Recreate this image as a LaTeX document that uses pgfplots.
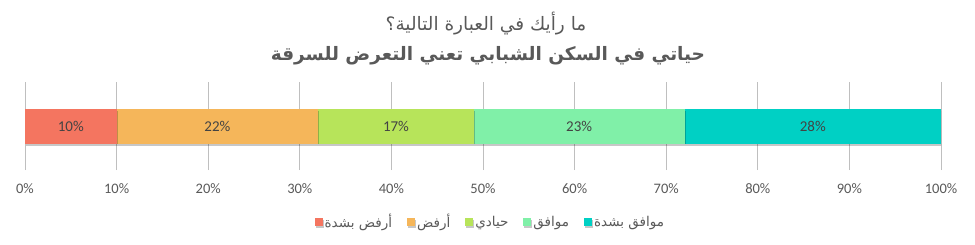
\documentclass[border=0pt]{standalone}
\usepackage{fontspec}
\setmainfont{Carlito}
\newfontfamily\arabicfont[Script=Arabic]{DejaVu Sans}
\TeXXeTstate=1
\usepackage{pgfplots}
\pgfplotsset{compat=1.18}
\definecolor{txt}{RGB}{89,89,89}
\definecolor{grid}{RGB}{217,217,217}
\definecolor{c1}{RGB}{244,117,96}
\definecolor{c2}{RGB}{245,182,90}
\definecolor{c3}{RGB}{183,228,90}
\definecolor{c4}{RGB}{128,240,168}
\definecolor{c5}{RGB}{0,208,196}
\newif\ifnoshadow
\tikzset{myshadow/.code={\ifnoshadow\else\tikzset{preaction={fill=black, opacity=0.22, transform canvas={xshift=1bp, yshift=-2.5bp}}}\fi}}
\begin{document}
\begin{tikzpicture}
\begin{axis}[
  at={(0,0)}, anchor=south west,
  scale only axis, width=916bp, height=88bp,
  xbar stacked, bar width=35bp,
  xmin=0, xmax=100, ymin=-0.5, ymax=0.5,
  xtick={0,10,...,100},
  xticklabel={\pgfmathprintnumber{\tick}\%},
  /pgf/number format/assume math mode=true,
  xticklabel style={font=\fontsize{14.5bp}{16bp}\selectfont, text=txt, yshift=-10bp},
  ytick=\empty,
  xmajorgrids, grid style={grid, line width=0.8bp},
  major tick length=0pt,
  axis line style={draw=none},
  point meta=explicit,
  nodes near coords={\pgfmathprintnumber{\pgfplotspointmeta}\%},
  every node near coord/.append style={font=\fontsize{15bp}{17bp}\selectfont, text=txt!75!black},
  legend columns=5,
  legend style={at={(0.508,-0.59)}, anchor=center, draw=none, fill=none,
    font=\fontsize{13.5bp}{15bp}\selectfont, text=txt,
    /tikz/every even column/.append style={column sep=13bp}},
  legend image code/.code={\global\noshadowtrue\fill[#1] (0bp,-4bp) rectangle (8bp,4bp);\global\noshadowfalse},
]
\addplot[fill=c1, draw=none, myshadow] coordinates {(10,0) [10]};
\addlegendentry{\arabicfont\beginR أرفض بشدة\endR}
\addplot[fill=c2, draw=none, myshadow] coordinates {(22,0) [22]};
\addlegendentry{\arabicfont\beginR أرفض\endR}
\addplot[fill=c3, draw=none, myshadow] coordinates {(17,0) [17]};
\addlegendentry{\arabicfont\beginR حيادي\endR}
\addplot[fill=c4, draw=none, myshadow] coordinates {(23,0) [23]};
\addlegendentry{\arabicfont\beginR موافق\endR}
\addplot[fill=c5, draw=none, myshadow] coordinates {(28,0) [28]};
\addlegendentry{\arabicfont\beginR موافق بشدة\endR}
\end{axis}
\node[text=txt, font=\arabicfont\fontsize{18.5bp}{22bp}\selectfont] at (486bp-25bp,88bp+58bp) {\beginR ما رأيك في العبارة التالية؟\endR};
\node[text=txt, font=\arabicfont\bfseries\fontsize{18.5bp}{24bp}\selectfont] at (488bp-25bp,88bp+26bp) {\beginR حياتي في السكن الشبابي تعني التعرض للسرقة\endR};
\useasboundingbox (-25bp,-75bp) rectangle (950bp,170bp);
\end{tikzpicture}
\end{document}
